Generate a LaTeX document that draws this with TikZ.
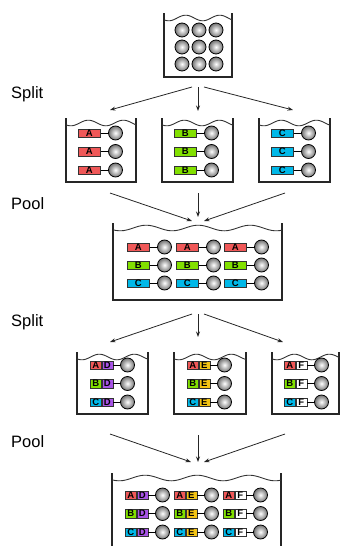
\documentclass[tikz,border=0pt]{standalone}
\usepackage{fontspec}
\setmainfont{Liberation Sans}
\usetikzlibrary{arrows.meta}
\definecolor{cA}{RGB}{240,88,88}
\definecolor{cB}{RGB}{130,224,0}
\definecolor{cC}{RGB}{0,184,232}
\definecolor{cD}{RGB}{168,84,230}
\definecolor{cE}{RGB}{244,196,20}
\definecolor{cF}{RGB}{255,255,255}
\tikzset{
  wall/.style={line width=1.1pt, black!85},
  wave/.style={line width=0.9pt, black!80},
  flow/.style={line width=0.8pt, black!85, -{Stealth[length=5.5pt,width=4pt]}},
  tagfull/.style={draw=black!80, line width=0.5pt, minimum width=22pt, minimum height=8.5pt, inner sep=0pt, font=\fontsize{9.5}{9.5}\selectfont\bfseries},
  taghalf/.style={draw=black!80, line width=0.5pt, minimum width=11pt, minimum height=8.5pt, inner sep=0pt, font=\fontsize{9.5}{9.5}\selectfont\bfseries},
  bead/.style={circle, draw=black, line width=0.8pt, minimum size=14pt, inner sep=0pt, inner color=white, outer color=black!55},
  link/.style={line width=0.9pt, black},
  lbl/.style={anchor=base west, inner sep=0pt, font=\fontsize{16.5}{19}\selectfont}
}
% beaker: x1, x2, ytop, ybot, wavelength
\newcommand\Beaker[5]{%
  \draw[wall] (#1,#3) -- (#1,#4) -- (#2,#4) -- (#2,#3);
  \draw[wave] plot[domain=#1:#2, samples=80, smooth] (\x, {#3+5+2.8*sin(((\x-#1)/#5)*360+40)});
}
% single bead: name, tag-left x, y, colour, letter
\newcommand\SBead[5]{%
  \node[tagfull, fill=#4, anchor=west] (#1t) at (#2,#3) {#5};
  \node[bead] (#1b) at (#2+37.5,#3) {};
  \draw[link] (#1t.east) -- (#1b.west);
}
% double bead: name, tag-left x, y, colour1, colour2, letter1, letter2
\newcommand\DBead[7]{%
  \node[taghalf, fill=#4, anchor=west] (#1l) at (#2,#3) {#6};
  \node[taghalf, fill=#5, anchor=west] (#1r) at (#1l.east) {#7};
  \node[bead] (#1b) at (#2+37.5,#3) {};
  \draw[link] (#1r.east) -- (#1b.west);
}
\begin{document}
\begin{tikzpicture}[x=1pt,y=-1pt]
\useasboundingbox (0,0) rectangle (340,546);
% labels
\node[lbl] (s1) at (11,98) {Split};
\node[lbl] (p1) at (11,209) {Pool};
\node[lbl] (s2) at (11,326) {Split};
\node[lbl] (p2) at (11,447) {Pool};
% top beaker
\Beaker{164}{232}{13}{77}{34}
\foreach \i/\xx in {1/182,2/199,3/216}{
  \foreach \j/\yy in {1/30,2/47,3/64}{
    \node[bead] (t\i\j) at (\xx,\yy) {};
  }
}
% row 2
\Beaker{66}{136}{118}{182}{35}
\Beaker{162}{233}{118}{182}{35}
\Beaker{259}{330}{118}{182}{35}
\foreach \r/\yy in {1/133,2/151.5,3/170}{
  \SBead{ra\r}{78}{\yy}{cA}{A}
  \SBead{rb\r}{174}{\yy}{cB}{B}
  \SBead{rc\r}{271}{\yy}{cC}{C}
}
% pool beaker
\Beaker{113}{282}{223}{300}{52}
\foreach \k/\xx in {1/127,2/176,3/224}{
  \SBead{pa\k}{\xx}{247}{cA}{A}
  \SBead{pb\k}{\xx}{265}{cB}{B}
  \SBead{pc\k}{\xx}{283}{cC}{C}
}
% row 4
\Beaker{77}{148}{352}{414}{35}
\Beaker{174}{246}{352}{414}{35}
\Beaker{272}{339}{352}{414}{35}
\foreach \c/\L/\xx in {cD/D/90,cE/E/187,cF/F/284}{
  \DBead{qa\L}{\xx}{365}{cA}{\c}{A}{\L}
  \DBead{qb\L}{\xx}{383.5}{cB}{\c}{B}{\L}
  \DBead{qc\L}{\xx}{402}{cC}{\c}{C}{\L}
}
% bottom beaker
\draw[wall] (112,473) -- (112,547);
\draw[wall] (281,473) -- (281,547);
\draw[wave] plot[domain=112:281, samples=100, smooth] (\x, {473+5+2.8*sin(((\x-112)/52)*360+40)});
\foreach \c/\L/\xx in {cD/D/125,cE/E/174,cF/F/223}{
  \DBead{za\L}{\xx}{495}{cA}{\c}{A}{\L}
  \DBead{zb\L}{\xx}{513.5}{cB}{\c}{B}{\L}
  \DBead{zc\L}{\xx}{532}{cC}{\c}{C}{\L}
}
% arrow coordinates
\coordinate (a1s) at (192,87);  \coordinate (a1e) at (110,110);
\coordinate (a2s) at (198,87);  \coordinate (a2e) at (198,111);
\coordinate (a3s) at (204,87);  \coordinate (a3e) at (293,110);
\coordinate (b1s) at (110,193); \coordinate (b1e) at (192,221);
\coordinate (b2s) at (198,193); \coordinate (b2e) at (198,217);
\coordinate (b3s) at (285,193); \coordinate (b3e) at (204,221);
\coordinate (c1s) at (192,314); \coordinate (c1e) at (110,342);
\coordinate (c2s) at (198,314); \coordinate (c2e) at (198,337);
\coordinate (c3s) at (204,314); \coordinate (c3e) at (283,342);
\coordinate (d1s) at (110,434); \coordinate (d1e) at (191,462);
\coordinate (d2s) at (198,435); \coordinate (d2e) at (198,462);
\coordinate (d3s) at (285,434); \coordinate (d3e) at (204,462);
\foreach \g in {a,b,c,d}{
  \foreach \n in {1,2,3}{
    \draw[flow] (\g\n s) -- (\g\n e);
  }
}
\end{tikzpicture}
\end{document}
